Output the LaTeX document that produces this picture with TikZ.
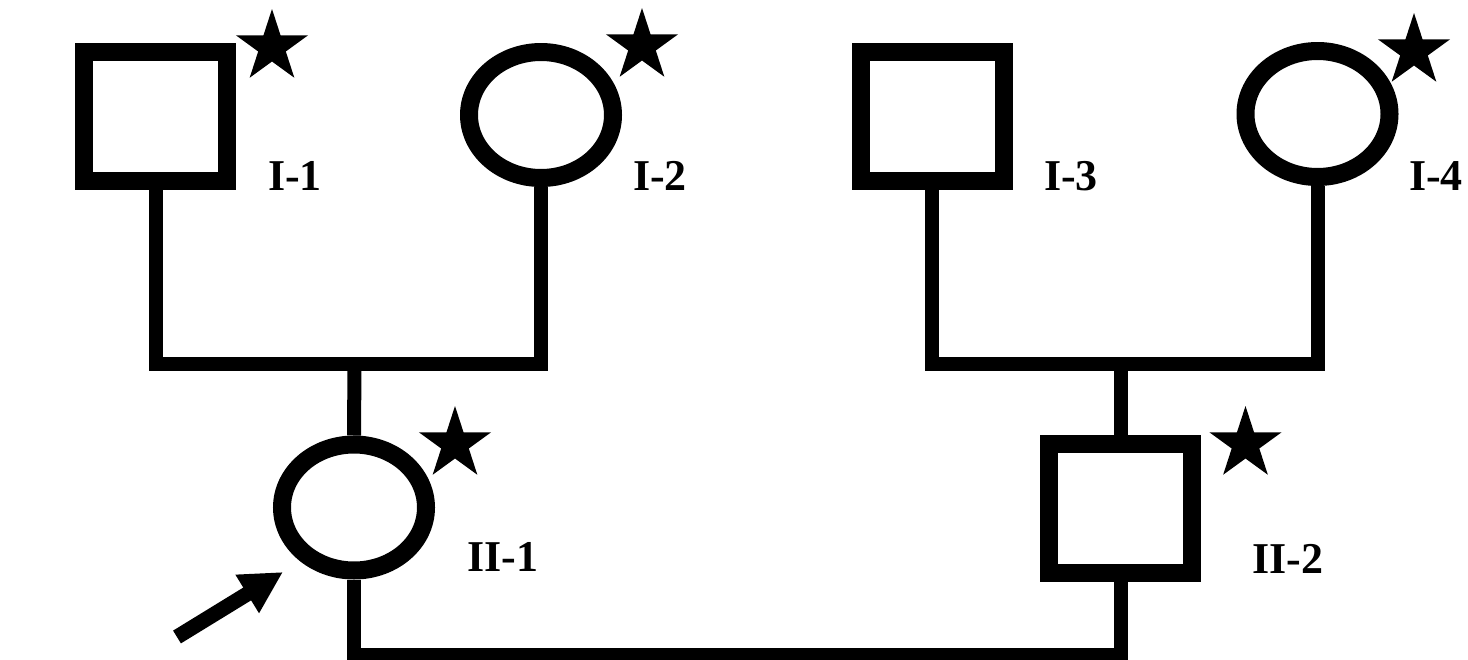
\documentclass[tikz,border=0pt]{standalone}
\usepackage{fontspec}
\setmainfont{Liberation Serif}
\usetikzlibrary{shapes.geometric,arrows.meta}
\tikzset{
  male/.style={draw=black, fill=white, rectangle, line width=9pt, minimum width=71.5pt, minimum height=64.5pt, inner sep=0pt},
  female/.style={draw=black, fill=white, ellipse, line width=9pt, minimum width=72pt, minimum height=63pt, inner sep=0pt},
  mark star/.style={star, star points=5, star point ratio=2.618, fill=black, inner sep=0pt, minimum size=38pt},
  lbl/.style={font=\fontsize{22}{22}\selectfont\bfseries, inner sep=0pt},
  conn/.style={line width=7pt, line join=miter, draw=black},
  probarrow/.style={line width=7.5pt, -{Triangle[length=21pt,width=21pt]}}
}
\begin{document}
\begin{tikzpicture}[x=0.5pt, y=-0.5pt]
\useasboundingbox (0,0) rectangle (1468,659);
\coordinate (m1) at (354.5,363.5);
\coordinate (m2) at (1120.5,363.5);
\coordinate (m3) at (740,655);
% individuals
\node[male]   (I1)  at (155.5,116.5) {};
\node[female] (I2)  at (541,115) {};
\node[male]   (I3)  at (932,116.5) {};
\node[female] (I4)  at (1317.5,114) {};
\node[female] (II1) at (354,507.5) {};
\node[male]   (II2) at (1120.5,508.5) {};
% connectors
\draw[conn] (I1.south) |- (m1) -| (I2.south);
\draw[conn] (m1) -- (II1.north);
\draw[conn] (I3.south) |- (m2) -| (I4.south);
\draw[conn] (m2) -- (II2.north);
\draw[conn] (II1.south) |- (m3) -| (II2.south);
% stars
\node[mark star] (s1) at (272,47) {};
\node[mark star] (s2) at (642,46) {};
\node[mark star] (s4) at (1414,51) {};
\node[mark star] (s5) at (455,444) {};
\node[mark star] (s6) at (1245.5,444) {};
% labels
\node[lbl] (l1) at (295,176) {I-1};
\node[lbl] (l2) at (660,176) {I-2};
\node[lbl] (l3) at (1071,176) {I-3};
\node[lbl] (l4) at (1436,176) {I-4};
\node[lbl] (l5) at (503,557) {II-1};
\node[lbl] (l6) at (1288,559) {II-2};
% proband arrow
\coordinate (as) at (177,637);
\coordinate (ae) at (283,572);
\draw[probarrow] (as) -- (ae);
\end{tikzpicture}
\end{document}
